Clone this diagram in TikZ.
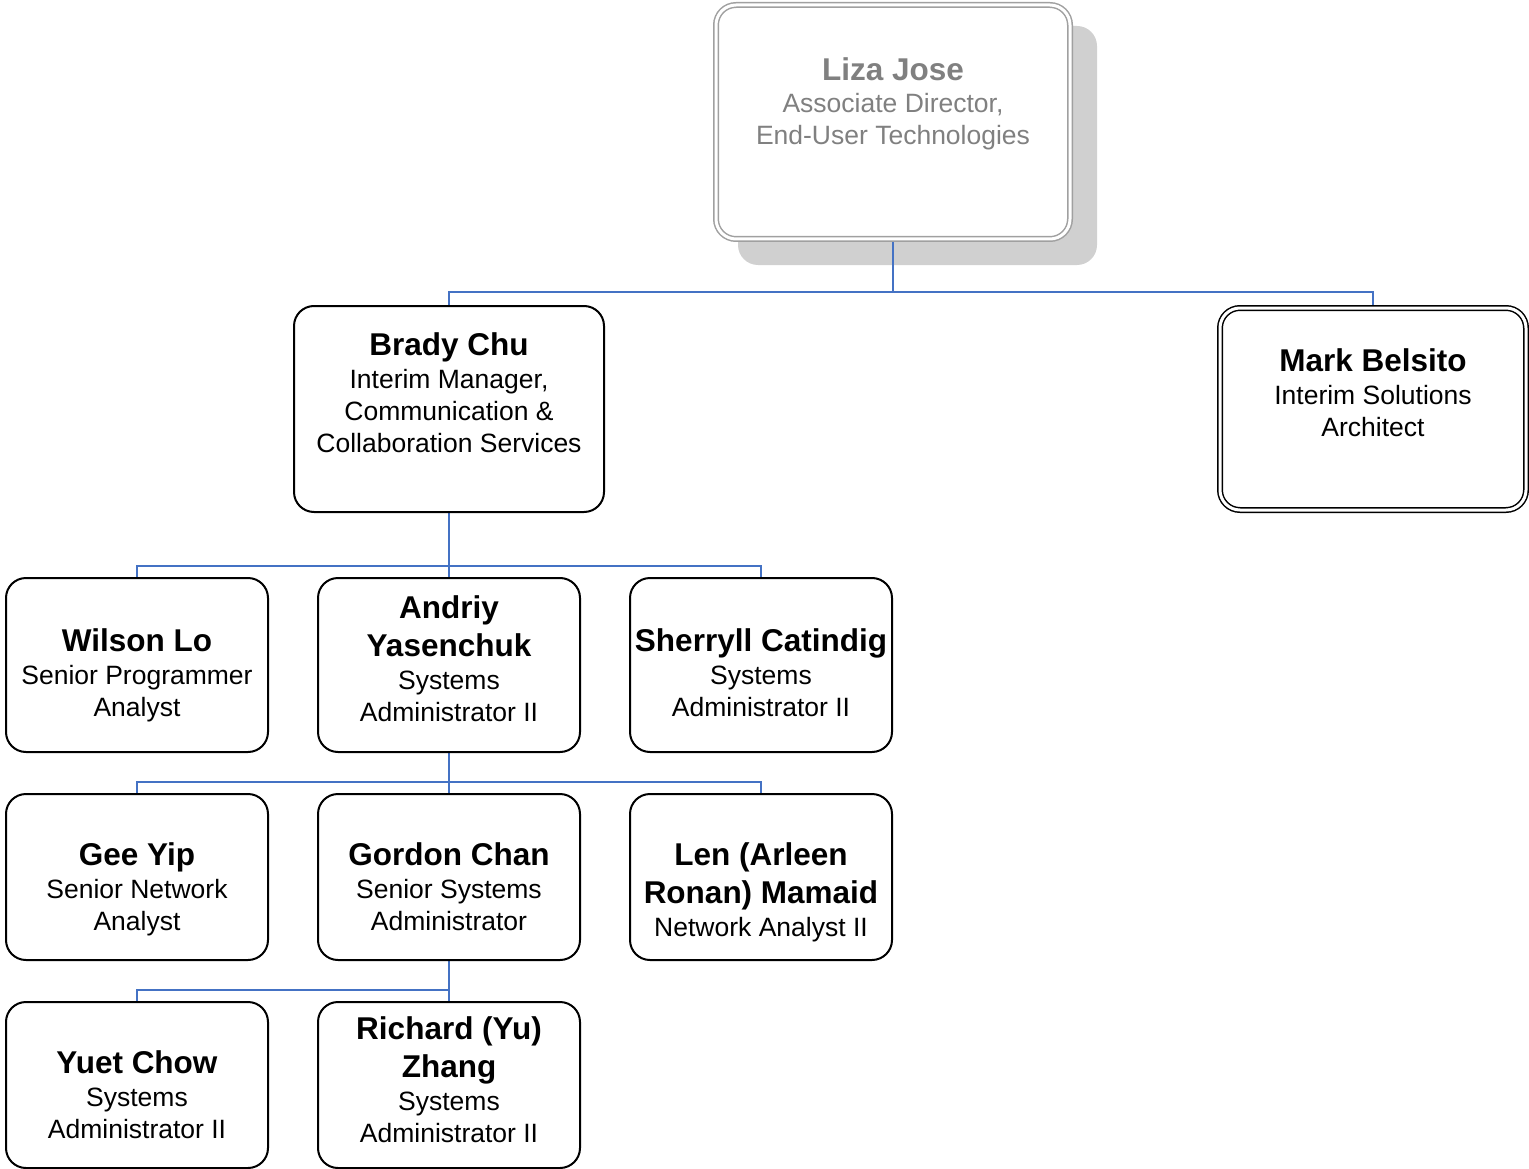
\documentclass[tikz,border=0pt]{standalone}
\usepackage{fontspec}
\setmainfont{Liberation Sans}
\usetikzlibrary{calc}
\pgfdeclarelayer{bg}
\pgfsetlayers{bg,main}
\definecolor{connblue}{RGB}{68,114,196}
\definecolor{lizagray}{RGB}{128,128,128}
\definecolor{lizaborder}{RGB}{160,160,160}
\definecolor{shadowgray}{RGB}{208,208,208}
\newcommand{\nm}[1]{{\fontsize{31.5}{38}\selectfont\bfseries #1}}
\tikzset{
  box/.style={draw=black, line width=2pt, fill=white, rounded corners=20pt, inner sep=0pt},
  dbox/.style={draw=black, line width=1.5pt, double=white, double distance=3pt, fill=white, rounded corners=20pt, inner sep=0pt},
  gbox/.style={draw=lizaborder, line width=1.5pt, double=white, double distance=3pt, fill=white, rounded corners=20pt, inner sep=0pt},
  txt/.style={anchor=north, align=center, inner sep=0pt, font=\fontsize{26.5}{32}\selectfont},
  conn/.style={draw=connblue, line width=2pt}
}
\begin{document}
\begin{tikzpicture}[x=1pt,y=-1pt]
\useasboundingbox (0,0) rectangle (1529,1169);
% boxes
\node[gbox, minimum width=354pt, minimum height=234pt] (liza) at (893,122) {};
\node[box, minimum width=310pt, minimum height=206pt] (brady) at (449,409) {};
\node[dbox, minimum width=306pt, minimum height=202pt] (mark) at (1373,409) {};
\node[box, minimum width=262pt, minimum height=174pt] (wilson) at (137,665) {};
\node[box, minimum width=262pt, minimum height=174pt] (andriy) at (449,665) {};
\node[box, minimum width=262pt, minimum height=174pt] (sherryll) at (761,665) {};
\node[box, minimum width=262pt, minimum height=166pt] (gee) at (137,877) {};
\node[box, minimum width=262pt, minimum height=166pt] (gordon) at (449,877) {};
\node[box, minimum width=262pt, minimum height=166pt] (len) at (761,877) {};
\node[box, minimum width=262pt, minimum height=166pt] (yuet) at (137,1085) {};
\node[box, minimum width=262pt, minimum height=166pt] (richard) at (449,1085) {};
% texts
\node[txt, text=lizagray] (lizaT) at (893,57) {\nm{Liza Jose}\\[0pt]Associate Director,\\End-User Technologies};
\node[txt] (bradyT) at (449,332) {\nm{Brady Chu}\\[1pt]Interim Manager,\\Communication \&\\Collaboration Services};
\node[txt] (markT) at (1373,348) {\nm{Mark Belsito}\\[1pt]Interim Solutions\\Architect};
\node[txt] (wilsonT) at (137,628) {\nm{Wilson Lo}\\[1pt]Senior Programmer\\Analyst};
\node[txt] (andriyT) at (449,595) {\nm{Andriy}\\[6pt]\nm{Yasenchuk}\\[1pt]Systems\\Administrator II};
\node[txt] (sherryllT) at (761,628) {\nm{Sherryll Catindig}\\[1pt]Systems\\Administrator II};
\node[txt] (geeT) at (137,842) {\nm{Gee Yip}\\[1pt]Senior Network\\Analyst};
\node[txt] (gordonT) at (449,842) {\nm{Gordon Chan}\\[1pt]Senior Systems\\Administrator};
\node[txt] (lenT) at (761,842) {\nm{Len (Arleen}\\[6pt]\nm{Ronan) Mamaid}\\[1pt]Network Analyst II};
\node[txt] (yuetT) at (137,1050) {\nm{Yuet Chow}\\[1pt]Systems\\Administrator II};
\node[txt] (richardT) at (449,1016) {\nm{Richard (Yu)}\\[6pt]\nm{Zhang}\\[1pt]Systems\\Administrator II};
% junctions
\coordinate (j1) at (893,292);
\coordinate (j2) at (449,566);
\coordinate (j3) at (449,782);
\coordinate (j4) at (449,990);
\begin{pgfonlayer}{bg}
  \fill[shadowgray, rounded corners=20pt] (738,26) rectangle (1097,265);
  \draw[conn] (liza.south) -- (j1) -| (brady.north);
  \draw[conn] (j1) -| (mark.north);
  \draw[conn] (brady.south) -- (j2) -| (wilson.north);
  \draw[conn] (j2) -| (sherryll.north);
  \draw[conn] (j2) -- (andriy.north);
  \draw[conn] (andriy.south) -- (j3) -| (gee.north);
  \draw[conn] (j3) -| (len.north);
  \draw[conn] (j3) -- (gordon.north);
  \draw[conn] (gordon.south) -- (j4) -| (yuet.north);
  \draw[conn] (j4) -- (richard.north);
\end{pgfonlayer}
\end{tikzpicture}
\end{document}
